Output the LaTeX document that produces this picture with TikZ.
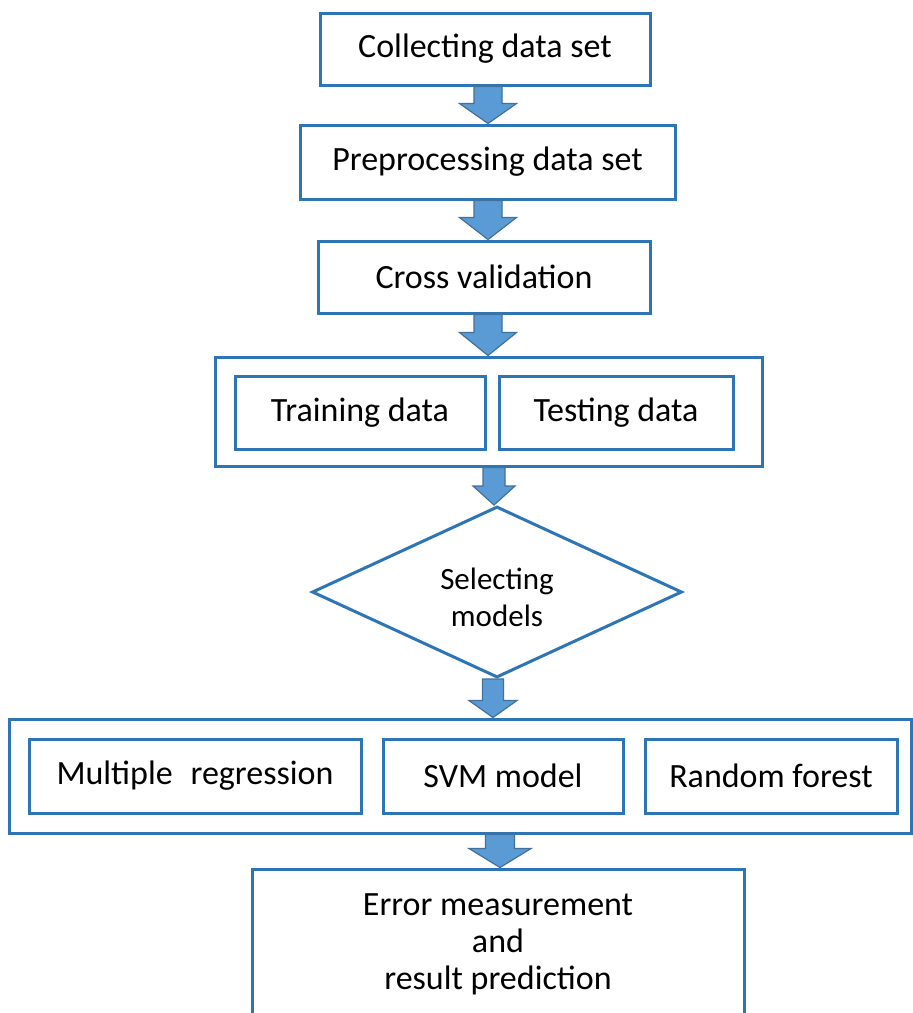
\documentclass[tikz,border=0pt]{standalone}
\usepackage{fontspec}
\setmainfont{Carlito}
\usetikzlibrary{calc,shapes.geometric}

\definecolor{boxline}{HTML}{2E75B6}
\definecolor{arrowfillc}{HTML}{5B9BD5}
\definecolor{arrowline}{HTML}{41719C}

% block arrow from the bottom of #1 to the top of #2, centred on coordinate #3;
% #4 = half shaft width, #5 = half head width, #6 = head length
\newcommand\blockarrow[6]{%
  \filldraw[blockarrow]
    ($(#1.south -| #3)+(-#4,0)$) -- ($(#1.south -| #3)+(#4,0)$)
    -- ($(#2.north -| #3)+(#4,-#6)$) -- ($(#2.north -| #3)+(#5,-#6)$)
    -- (#2.north -| #3)
    -- ($(#2.north -| #3)+(-#5,-#6)$) -- ($(#2.north -| #3)+(-#4,-#6)$)
    -- cycle;}

\begin{document}
\begin{tikzpicture}[x=1pt,y=-1pt,
  every node/.style={font=\fontsize{34}{37}\selectfont},
  stepbox/.style={draw=boxline,line width=3pt,rectangle,inner sep=0pt,
    align=center},
  choice/.style={draw=boxline,line width=3pt,diamond,aspect=2.2,inner sep=0pt,
    align=center,font=\fontsize{31}{37}\selectfont},
  blockarrow/.style={fill=arrowfillc,draw=arrowline,line width=1.2pt,
    line join=miter}]

\fill[white] (0,0) rectangle (913,1013);
\clip (0,0) rectangle (913,1013);

% process steps
\node[stepbox,minimum width=330,minimum height=72] (collect) at (485,49)
  {Collecting data set};
\node[stepbox,minimum width=375,minimum height=74] (prep) at (487.5,162)
  {Preprocessing data set};
\node[stepbox,minimum width=332,minimum height=72] (cross) at (484,277)
  {Cross validation};

% data split
\node[stepbox,minimum width=547,minimum height=109] (split) at (488.5,411.5) {};
\node[stepbox,minimum width=250,minimum height=73] (train) at (360,412.5)
  {Training data};
\node[stepbox,minimum width=234,minimum height=73] (test) at (616,412.5)
  {Testing data};

% model choice
\node[choice,minimum width=370,minimum height=171] (select) at (497,592)
  {\rule{0pt}{33pt}Selecting\\models};

% candidate models
\node[stepbox,minimum width=902,minimum height=114] (models) at (460,776) {};
\node[stepbox,minimum width=332,minimum height=74] (mreg) at (195,776)
  {Multiple\hspace{0.3em} regression};
\node[stepbox,minimum width=240,minimum height=74] (svm) at (503,776)
  {SVM model};
\node[stepbox,minimum width=252,minimum height=74] (rf) at (771,776)
  {Random forest};

% evaluation
\node[stepbox,minimum width=492,minimum height=151] (result) at (498,944.5)
  {Error measurement\\and\\result prediction};

% arrow axes
\coordinate (ax1) at (488,0);
\coordinate (ax2) at (488,0);
\coordinate (ax3) at (488,0);
\coordinate (ax4) at (494,0);
\coordinate (ax5) at (493,0);
\coordinate (ax6) at (500,0);

\blockarrow{collect}{prep}{ax1}{14}{28.5}{20}
\blockarrow{prep}{cross}{ax2}{14}{28.5}{22}
\blockarrow{cross}{split}{ax3}{14}{28.5}{23}
\blockarrow{split}{select}{ax4}{11}{21}{19}
\blockarrow{select}{models}{ax5}{10.5}{24}{17}
\blockarrow{models}{result}{ax6}{14.5}{31}{19}
\end{tikzpicture}
\end{document}
